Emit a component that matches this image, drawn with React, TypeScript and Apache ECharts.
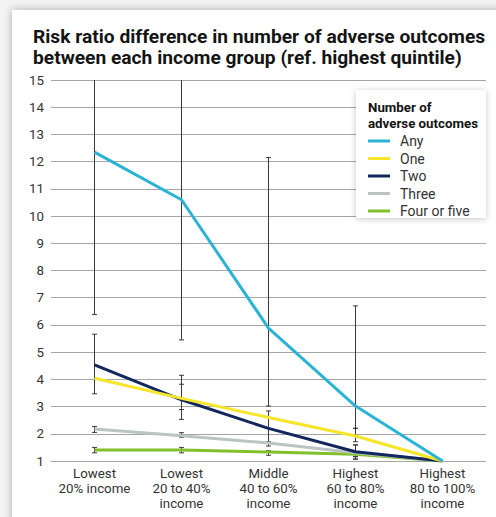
import React, { useEffect, useRef } from "react";
import * as echarts from "echarts";

const categories = [
  "Lowest\n20% income",
  "Lowest\n20 to 40%\nincome",
  "Middle\n40 to 60%\nincome",
  "Highest\n60 to 80%\nincome",
  "Highest\n80 to 100%\nincome",
];

const seriesNames = ["Any", "One", "Two", "Three", "Four or five"];
const seriesColors = ["#2bb3d6", "#f7e52a", "#12275c", "#b9c4c3", "#80c02c"];

const anyValues = [12.35, 10.6, 5.88, 3.02, 1];
const oneValues = [4.04, 3.3, 2.6, 1.92, 1];
const twoValues = [4.53, 3.25, 2.2, 1.34, 1];
const threeValues = [2.18, 1.93, 1.66, 1.3, 1];
const fourValues = [1.4, 1.4, 1.33, 1.25, 1];

// error bars: [category index, low, high]
const anyErrors = [
  [0, 6.38, 20],
  [1, 5.45, 20],
  [2, 3.02, 12.15],
  [3, 2.2, 6.7],
];
const oneErrors = [
  [1, 2.89, 3.82],
  [3, 1.71, 2.2],
];
const twoErrors = [
  [0, 3.47, 5.66],
  [1, 2.53, 4.15],
  [2, 1.7, 2.84],
  [3, 1.07, 1.59],
];
const threeErrors = [
  [0, 2.05, 2.27],
  [1, 1.87, 2.04],
  [2, 1.55, 1.7],
  [3, 1.16, 1.59],
];
const fourErrors = [
  [0, 1.3, 1.5],
  [1, 1.3, 1.5],
  [2, 1.21, 1.38],
  [3, 1.07, 1.16],
];

const yTicks = [1, 15];

const valueSets = [anyValues, oneValues, twoValues, threeValues, fourValues];
const errorSets = [anyErrors, oneErrors, twoErrors, threeErrors, fourErrors];

const FONT = "Roboto, 'Noto Sans', sans-serif";

export default function App() {
  const ref = useRef<HTMLDivElement>(null);

  useEffect(() => {
    if (!ref.current) return;
    const chart = echarts.init(ref.current, null, { renderer: "svg" });

    const renderError = (params: any, api: any) => {
      const x = api.value(0);
      const lo = api.value(1);
      const hi = api.value(2);
      const pLo = api.coord([x, lo]);
      const pHi = api.coord([x, hi]);
      const w = 2.5;
      const style = { stroke: "#3a3a3a", lineWidth: 1 };
      return {
        type: "group",
        children: [
          { type: "line", shape: { x1: pLo[0], y1: pHi[1], x2: pLo[0], y2: pLo[1] }, style },
          { type: "line", shape: { x1: pLo[0] - w, y1: pHi[1], x2: pLo[0] + w, y2: pHi[1] }, style },
          { type: "line", shape: { x1: pLo[0] - w, y1: pLo[1], x2: pLo[0] + w, y2: pLo[1] }, style },
        ],
      };
    };

    const errorSeries = errorSets.map((d, i) => ({
      type: "custom",
      name: seriesNames[i] + " CI",
      data: d,
      renderItem: renderError,
      encode: { x: 0, y: [1, 2] },
      clip: true,
      z: 1,
      silent: true,
    }));

    const lineSeries = valueSets.map((d, i) => ({
      type: "line",
      name: seriesNames[i],
      data: d,
      symbol: "none",
      smooth: false,
      lineStyle: { color: seriesColors[i], width: 3 },
      itemStyle: { color: seriesColors[i] },
      z: 5 - i + 2,
    }));

    chart.setOption({
      animation: false,
      textStyle: { fontFamily: FONT },
      title: {
        text: "Risk ratio difference in number of adverse outcomes\nbetween each income group (ref. highest quintile)",
        left: 33,
        top: 26,
        padding: 0,
        textStyle: {
          fontFamily: FONT,
          fontSize: 19.2,
          fontWeight: "bold",
          lineHeight: 21,
          color: "#141414",
        },
      },
      grid: { left: 51, right: 10, top: 80, bottom: 56 },
      xAxis: {
        type: "category",
        data: categories,
        boundaryGap: true,
        axisLine: { show: false },
        axisTick: { show: false },
        splitLine: { show: false },
        axisLabel: {
          interval: 0,
          margin: 5,
          fontSize: 13.3,
          lineHeight: 15,
          color: "#333",
          fontFamily: FONT,
        },
      },
      yAxis: {
        type: "value",
        min: yTicks[0],
        max: yTicks[1],
        interval: 1,
        axisLine: { show: false },
        axisTick: { show: false },
        axisLabel: { fontSize: 13.3, color: "#333", margin: 7, fontFamily: FONT },
        splitLine: { lineStyle: { color: "#a5a5a5", width: 1.2 } },
      },
      legend: {
        data: seriesNames,
        orient: "vertical",
        left: 356,
        top: 90,
        padding: [44, 12, 2, 12],
        itemWidth: 22,
        itemHeight: 3,
        itemGap: 3.5,
        icon: "rect",
        z: 20,
        textStyle: {
          fontSize: 14,
          lineHeight: 14,
          color: "#333",
          fontFamily: FONT,
          padding: [0, 0, 0, 5],
        },
        selectedMode: false,
      },
      graphic: [
        {
          type: "rect",
          z: 15,
          shape: { x: 356, y: 90, width: 130, height: 128 },
          style: {
            fill: "#fff",
            shadowBlur: 6,
            shadowColor: "rgba(0,0,0,0.22)",
            shadowOffsetX: 0,
            shadowOffsetY: 1,
          },
        },
        {
          type: "text",
          z: 25,
          x: 368,
          y: 100,
          style: {
            text: "Number of\nadverse outcomes",
            fontFamily: FONT,
            fontSize: 13.3,
            fontWeight: "bold",
            lineHeight: 15.5,
            fill: "#141414",
          },
        },
      ],
      series: [...errorSeries, ...lineSeries],
    });

    return () => chart.dispose();
  }, []);

  return (
    <div style={{ position: "fixed", left: 0, top: 0, width: 496, height: 517, background: "#f3f3f3", overflow: "hidden" }}>
      <div
        style={{
          position: "absolute",
          left: 12,
          top: 10,
          width: 520,
          height: 540,
          background: "#fff",
          boxShadow: "0 0 8px rgba(0,0,0,0.3)",
        }}
      />
      <div ref={ref} style={{ position: "absolute", left: 0, top: 0, width: 496, height: 517 }} />
    </div>
  );
}
